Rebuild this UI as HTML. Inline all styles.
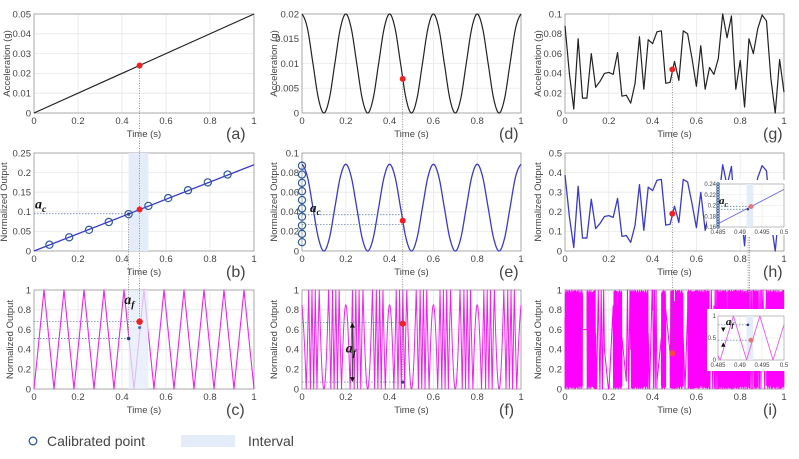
<!DOCTYPE html>
<html><head><meta charset="utf-8">
<style>
html,body{margin:0;padding:0;background:#fff;}
svg{display:block;font-family:"Liberation Sans",sans-serif;}
</style></head>
<body>
<svg id="fig" width="799" height="459" viewBox="0 0 799 459" xmlns="http://www.w3.org/2000/svg"></svg>
<script>
// ---------- data ----------
const xTicks=[0,0.2,0.4,0.6,0.8,1];
const xTickLabels=["0","0.2","0.4","0.6","0.8","1"];
const aTime=[0,1];
const aValues=[0,0.05];
const aTicks=[0,0.01,0.02,0.03,0.04,0.05];
const dValues=[0.02,0.01707,0.01,0.00293,0,0.00293,0.01,0.01707,0.02,0.01707,0.01,0.00293,0,0.00293,0.01,0.01707,0.02,0.01707,0.01,0.00293,0,0.00293,0.01,0.01707,0.02,0.01707,0.01,0.00293,0,0.00293,0.01,0.01707,0.02,0.01707,0.01,0.00293,0,0.00293,0.01,0.01707,0.02];
const dTicks=[0,0.005,0.01,0.015,0.02];
const gValues=[0.088,0.04,0.004,0.075,0.015,0.015,0.06,0.026,0.032,0.04,0.041,0.039,0.061,0.017,0.018,0.01,0.03,0.077,0.024,0.074,0.07,0.082,0.083,0.03,0.031,0.052,0.033,0.083,0.08,0.055,0.027,0.068,0.024,0.046,0.039,0.055,0.1,0.076,0.098,0.024,0.053,0.006,0.075,0.06,0.085,0.099,0.093,0.035,0.0,0.054,0.021];
const gTicks=[0,0.02,0.04,0.06,0.08,0.1];
const bTime=[0,1];
const bValues=[0,0.22];
const bTicks=[0,0.05,0.1,0.15,0.2,0.25];
const bCalTime=[0.07,0.16,0.25,0.34,0.43,0.52,0.61,0.70,0.79,0.88];
const bCalValues=[0.016,0.035,0.054,0.074,0.094,0.115,0.135,0.155,0.175,0.195];
const eValues=[0.0885,0.0755,0.04425,0.013,0,0.013,0.04425,0.0755,0.0885,0.0755,0.04425,0.013,0,0.013,0.04425,0.0755,0.0885,0.0755,0.04425,0.013,0,0.013,0.04425,0.0755,0.0885,0.0755,0.04425,0.013,0,0.013,0.04425,0.0755,0.0885,0.0755,0.04425,0.013,0,0.013,0.04425,0.0755,0.0885];
const eTicks=[0,0.02,0.04,0.06,0.08,0.1];
const eCalValues=[0.009,0.0175,0.026,0.035,0.0435,0.052,0.061,0.0695,0.078,0.087];
const hGain=4.4;
const hTicks=[0,0.1,0.2,0.3,0.4,0.5];
const foldPeriod=0.02;
const normTicks=[0,0.2,0.4,0.6,0.8,1];
const normTickLabels=["0","0.2","0.4","0.6","0.8","1"];
// ---------- helpers ----------
const NS="http://www.w3.org/2000/svg";
const svg=document.getElementById('fig');
function add(parent,tag,attrs,text){const e=document.createElementNS(NS,tag);for(const k in attrs)e.setAttribute(k,attrs[k]);if(text!==undefined)e.textContent=text;parent.appendChild(e);return e;}
function panel(x0,x1,yT,yB,xmin,xmax,ymin,ymax){return{x0,x1,yT,yB,sx:t=>x0+(t-xmin)/(xmax-xmin)*(x1-x0),sy:v=>yB-(v-ymin)/(ymax-ymin)*(yB-yT)};}
function fmt(v){return String(+v.toFixed(4));}
function cr(arr,t){
  const n=arr.length-1;let f=t*n;let i=Math.min(Math.floor(f),n-1);const u=f-i;
  const p0=arr[Math.max(i-1,0)],p1=arr[i],p2=arr[i+1],p3=arr[Math.min(i+2,n)];
  return 0.5*((2*p1)+(-p0+p2)*u+(2*p0-5*p1+4*p2-p3)*u*u+(-p0+3*p1-3*p2+p3)*u*u*u);}
function lin(arr,t){const n=arr.length-1;let f=t*n;let i=Math.min(Math.floor(f),n-1);const u=f-i;return arr[i]*(1-u)+arr[i+1]*u;}
function fold(v){let x=v/foldPeriod;x=x-Math.floor(x);return x<0.5?2*x:2-2*x;}
function pathFrom(p,ts,vs){let d='';for(let i=0;i<ts.length;i++){d+=(i?'L':'M')+p.sx(ts[i]).toFixed(2)+' '+p.sy(vs[i]).toFixed(2);}return d;}

function axes(p,name,yt,ytl,ylabel,ylx,letter,letterX,timeY){
  const g=add(svg,'g',{});
  
  
  xTicks.forEach((t,i)=>{
    const l=add(g,'line',{x1:p.sx(t),x2:p.sx(t),y1:p.yT,y2:p.yB,stroke:'#e8e8e8','stroke-width':0.8});
    
    
    const tx=add(g,'text',{x:p.sx(t),y:p.yB+11,'font-size':9.5,fill:'#444','text-anchor':'middle'},xTickLabels[i]);
    
    
  });
  yt.forEach((v,i)=>{
    const l=add(g,'line',{x1:p.x0,x2:p.x1,y1:p.sy(v),y2:p.sy(v),stroke:'#e8e8e8','stroke-width':0.8});
    
    
    const tx=add(g,'text',{x:p.x0-3,y:p.sy(v)+3.3,'font-size':9.5,fill:'#444','text-anchor':'end'},ytl[i]);
    
    
  });
  const b=add(g,'rect',{x:p.x0,y:p.yT,width:p.x1-p.x0,height:p.yB-p.yT,fill:'none',stroke:'#999','stroke-width':0.8});
  
  
  const cy=(p.yT+p.yB)/2;
  const yl=add(g,'text',{x:ylx,y:cy,'font-size':9.5,fill:'#444','text-anchor':'middle',transform:`rotate(-90 ${ylx} ${cy})`},ylabel);
  
  
  const xl=add(g,'text',{x:(p.x0+p.x1)/2,y:timeY,'font-size':9.5,fill:'#444','text-anchor':'middle'},'Time (s)');
  
  
  const lt=add(g,'text',{x:letterX,y:timeY+2,'font-size':16,fill:'#444'},letter);
  
  
  return g;
}
function line(g,p,ts,vs,color,w,name,op){const e=add(g,'path',{d:pathFrom(p,ts,vs),fill:'none',stroke:color,'stroke-width':w,'stroke-linejoin':'round',opacity:op||1});
  
  return e;}
function dot(g,cx,cy,r,color,name){const e=add(g,'circle',{cx,cy,r,fill:color});
  
  return e;}
function ring(g,cx,cy,r,name,w){const e=add(g,'circle',{cx,cy,r,fill:'none',stroke:'#2d5b9c','stroke-width':w||1.2});
  
  return e;}
function dash(g,x1,y1,x2,y2,name){const e=add(g,'line',{x1,y1,x2,y2,stroke:'#4a6fa8','stroke-width':0.7,'stroke-dasharray':'1.5,1.5'});
  
  return e;}
function vdot(x,y1,y2){const e=add(svg,'line',{x1:x,y1,x2:x,y2,stroke:'#666','stroke-width':0.7,'stroke-dasharray':'1,1.5'});
  
  return e;}
function label(g,x,y,base,sub,size,name){const e=add(g,'text',{x,y,'font-family':'Liberation Serif, serif','font-style':'italic','font-weight':'bold','font-size':size,fill:'#111'});
  
  
  add(e,'tspan',{},base);add(e,'tspan',{'font-size':size*0.7,dy:size*0.25},sub);return e;}
function shade(g,p,t0,t1,name,op){const e=add(g,'rect',{x:p.sx(t0),y:p.yT,width:p.sx(t1)-p.sx(t0),height:p.yB-p.yT,fill:'#e3ecf8',opacity:op||1});
  
  return e;}

const fine=[];for(let i=0;i<=1500;i++)fine.push(i/1500);
const vfine=[];for(let i=0;i<=12000;i++)vfine.push(i/12000);
const gTime=gValues.map((_,i)=>i/(gValues.length-1));
const hValues=gValues.map(v=>v*hGain);

const C=[[34,254],[302,521],[565,784]];
const R=[[14,113],[153,251],[290,389]];
const TY=[137,275,413];
const YL=[10,277,541];
const LX=[226,499,763];

// ---------- (a) ----------
const pa=panel(C[0][0],C[0][1],R[0][0],R[0][1],0,1,0,0.05);
let g=axes(pa,'panel-a',aTicks,aTicks.map(fmt),'Acceleration (g)',YL[0],'(a)',LX[0],TY[0]);
line(g,pa,aTime,aValues,'#222',1.2,'acceleration-line');
// ---------- (d) ----------
const pd=panel(C[1][0],C[1][1],R[0][0],R[0][1],0,1,0,0.02);
g=axes(pd,'panel-d',dTicks,dTicks.map(fmt),'Acceleration (g)',YL[1],'(d)',LX[1],TY[0]);
line(g,pd,fine,fine.map(t=>cr(dValues,t)),'#222',1.2,'acceleration-line');
// ---------- (g) ----------
const pg=panel(C[2][0],C[2][1],R[0][0],R[0][1],0,1,0,0.1);
g=axes(pg,'panel-g',gTicks,gTicks.map(fmt),'Acceleration (g)',YL[2],'(g)',LX[2],TY[0]);
line(g,pg,gTime,gValues,'#222',1.2,'acceleration-line');
// ---------- (b) ----------
const pb=panel(C[0][0],C[0][1],R[1][0],R[1][1],0,1,0,0.25);
g=axes(pb,'panel-b',bTicks,bTicks.map(fmt),'Normalized Output',YL[0]-3,'(b)',LX[0],TY[1]);
shade(g,pb,0.43,0.52,'interval-shade');
line(g,pb,bTime,bValues,'#3a3ad0',1.3,'output-line');
bCalTime.forEach((t,i)=>ring(g,pb.sx(t),pb.sy(bCalValues[i]),3.6,'calibrated-point'));
dash(g,pb.x0,pb.sy(0.095),pb.sx(0.43),pb.sy(0.095),'ac-dashed-line');
dot(g,pb.sx(0.43),pb.sy(0.094),1.6,'#1f3f7a','calibrated-marker');
label(g,pb.x0+1,pb.sy(0.108),'a','c',14,'ac-label');
// ---------- (e) ----------
const pe=panel(C[1][0],C[1][1],R[1][0],R[1][1],0,1,0,0.1);
g=axes(pe,'panel-e',eTicks,eTicks.map(fmt),'Normalized Output',YL[1],'(e)',LX[1],TY[1]);
line(g,pe,fine,fine.map(t=>cr(eValues,t)),'#3a3ad0',1.3,'output-line');
eCalValues.forEach(v=>ring(g,pe.x0,pe.sy(v),3.6,'calibrated-point'));
dash(g,pe.x0,pe.sy(0.037),pe.sx(0.46),pe.sy(0.037),'ac-dashed-line');
dash(g,pe.x0,pe.sy(0.027),pe.sx(0.46),pe.sy(0.027),'ac-dashed-line');
label(g,pe.x0+8,pe.sy(0.04),'a','c',13,'ac-label');
// ---------- (h) ----------
const ph=panel(C[2][0],C[2][1],R[1][0],R[1][1],0,1,0,0.5);
g=axes(ph,'panel-h',hTicks,hTicks.map(fmt),'Normalized Output',YL[2],'(h)',LX[2],TY[1]);
line(g,ph,gTime,hValues,'#3a3ad0',1.3,'output-line');
// ---------- (c) ----------
const pc=panel(C[0][0],C[0][1],R[2][0],R[2][1],0,1,0,1);
g=axes(pc,'panel-c',normTicks,normTickLabels,'Normalized Output',YL[0]+3,'(c)',LX[0],TY[2]);
line(g,pc,vfine,vfine.map(t=>fold(lin(bValues,t))),'#ee22ee',1.1,'folded-output-line');
shade(g,pc,0.43,0.52,'interval-shade',0.75);
dash(g,pc.x0,pc.sy(0.51),pc.sx(0.43),pc.sy(0.51),'af-dashed-line');
dash(g,pc.x0,pc.sy(0.68),pc.sx(0.48),pc.sy(0.68),'af-dashed-line');
dot(g,pc.sx(0.43),pc.sy(0.51),1.8,'#1f3f7a','calibrated-marker');
dot(g,pc.sx(0.48),pc.sy(0.62),1.5,'#4a6fa8','calibrated-marker');
label(g,pc.sx(0.41),pc.sy(0.86),'a','f',14,'af-label');
// ---------- (f) ----------
const pf=panel(C[1][0],C[1][1],R[2][0],R[2][1],0,1,0,1);
g=axes(pf,'panel-f',normTicks,normTickLabels,'Normalized Output',YL[1],'(f)',LX[1],TY[2]);
line(g,pf,vfine,vfine.map(t=>fold(cr(eValues,t))),'#ee22ee',1.0,'folded-output-line');
dash(g,pf.x0,pf.sy(0.67),pf.sx(0.46),pf.sy(0.67),'af-dashed-line');
dash(g,pf.x0,pf.sy(0.07),pf.sx(0.46),pf.sy(0.07),'af-dashed-line');
{const ax=pf.sx(0.23);const e=add(g,'line',{x1:ax,x2:ax,y1:pf.sy(0.64),y2:pf.sy(0.1),stroke:'#222','stroke-width':0.8});


const a1=add(g,'path',{d:`M${ax-2.5} ${pf.sy(0.62)}L${ax+2.5} ${pf.sy(0.62)}L${ax} ${pf.sy(0.67)}Z`,fill:'#111'});


const a2=add(g,'path',{d:`M${ax-2.5} ${pf.sy(0.12)}L${ax+2.5} ${pf.sy(0.12)}L${ax} ${pf.sy(0.07)}Z`,fill:'#111'});

}
label(g,pf.sx(0.2),pf.sy(0.37),'a','f',14,'af-label');
dot(g,pf.sx(0.46),pf.sy(0.07),1.6,'#1f3f7a','calibrated-marker');
// ---------- (i) ----------
const pi=panel(C[2][0],C[2][1],R[2][0],R[2][1],0,1,0,1);
g=axes(pi,'panel-i',normTicks,normTickLabels,'Normalized Output',YL[2],'(i)',LX[2],TY[2]);
line(g,pi,vfine,vfine.map(t=>fold(lin(hValues,t))),'#ff00ff',1.0,'folded-output-line');

// ---------- guide lines ----------
vdot(pa.sx(0.48),pa.sy(0.024),pc.sy(0.68));
vdot(pa.sx(0.43),pb.sy(0.094),pc.sy(0.51));
vdot(pd.sx(0.46),pd.sy(0.0069),pf.sy(0.07));
vdot(pg.sx(0.49),pg.sy(0.044),pi.sy(0.36));
vdot(ph.sx(0.836),ph.sy(0.07),pi.sy(0.5));
vdot(ph.sx(0.843),ph.sy(0.07),pi.sy(0.5));

// ---------- red points ----------
dot(svg,pa.sx(0.48),pa.sy(0.024),3,'#ee2222','selected-point');
dot(svg,pd.sx(0.46),pd.sy(0.0069),3,'#ee2222','selected-point');
dot(svg,pg.sx(0.49),pg.sy(0.044),3,'#ee2222','selected-point');
dot(svg,pb.sx(0.48),pb.sy(0.106),3,'#ee2222','selected-point');
dot(svg,pe.sx(0.46),pe.sy(0.031),3,'#ee2222','selected-point');
dot(svg,ph.sx(0.49),ph.sy(0.19),3,'#ee2222','selected-point');
dot(svg,pc.sx(0.48),pc.sy(0.68),3.2,'#ee2222','selected-point');
dot(svg,pf.sx(0.46),pf.sy(0.66),3,'#ee2222','selected-point');
dot(svg,pi.sx(0.49),pi.sy(0.36),3,'#ff4444','selected-point');

// ---------- insets ----------
const insTicksX=[0.485,0.49,0.495,0.5];
function inset(name,bx,by,bw,bh,p,yt,ytl){
  const g=add(svg,'g',{});
  
  
  const bg=add(g,'rect',{x:bx,y:by,width:bw,height:bh,fill:'#fff'});
  
  
  insTicksX.forEach(t=>{
    const l=add(g,'line',{x1:p.sx(t),x2:p.sx(t),y1:p.yT,y2:p.yB,stroke:'#e8e8e8','stroke-width':0.6});
    
    
    const tx=add(g,'text',{x:p.sx(t),y:p.yB+7,'font-size':6,fill:'#444','text-anchor':'middle'},fmt(t));
    
    
  });
  yt.forEach((v,i)=>{
    const l=add(g,'line',{x1:p.x0,x2:p.x1,y1:p.sy(v),y2:p.sy(v),stroke:'#e8e8e8','stroke-width':0.6});
    
    
    const tx=add(g,'text',{x:p.x0-2,y:p.sy(v)+2,'font-size':6,fill:'#444','text-anchor':'end'},ytl[i]);
    
    
  });
  const b=add(g,'rect',{x:p.x0,y:p.yT,width:p.x1-p.x0,height:p.yB-p.yT,fill:'none',stroke:'#999','stroke-width':0.6});
  
  
  return g;
}
const insHTime=[0.485,0.5];
const insHValues=[0.166,0.23];
const insHCal=[0.16,0.165,0.17,0.175,0.18,0.185,0.19,0.195,0.2,0.205,0.21,0.215,0.22,0.225,0.23,0.235,0.24];
const ph2=panel(718,784,184,227,0.485,0.5,0.16,0.24);
const insHTicks=[0.16,0.18,0.2,0.22,0.24];
g=inset('inset-h',707,180,78,55,ph2,insHTicks,insHTicks.map(fmt));
shade(g,ph2,0.4915,0.493,'interval-shade');
line(g,ph2,insHTime,insHValues,'#6666ee',0.9,'inset-output-line');
insHCal.forEach(v=>ring(g,ph2.x0,ph2.sy(v),1.3,'calibrated-point',0.8));
dash(g,ph2.x0,ph2.sy(0.198),ph2.sx(0.4925),ph2.sy(0.198),'ac-dashed-line');
dash(g,ph2.x0,ph2.sy(0.193),ph2.sx(0.4918),ph2.sy(0.193),'ac-dashed-line');
dot(g,ph2.sx(0.4918),ph2.sy(0.193),1.2,'#1f3f7a','calibrated-marker');
dot(g,ph2.sx(0.4925),ph2.sy(0.198),2.4,'#f07070','selected-point');
label(g,ph2.x0+1,ph2.sy(0.203),'a','c',11,'ac-label');

const insITime=[0.485,0.4855,0.4885,0.4915,0.4945,0.4975,0.5];
const insIValues=[0.1,0,1,0,1,0,0.8];
const pi2=panel(718,784,316,360,0.485,0.5,0,1);
const insITicks=[0,0.5,1];
g=inset('inset-i',707,309,78,62,pi2,insITicks,insITicks.map(fmt));
shade(g,pi2,0.4915,0.493,'interval-shade');
line(g,pi2,insITime,insIValues,'#ee55ee',0.9,'inset-folded-line');
dash(g,pi2.x0,pi2.sy(0.8),pi2.sx(0.4918),pi2.sy(0.8),'af-dashed-line');
dash(g,pi2.x0,pi2.sy(0.45),pi2.sx(0.4925),pi2.sy(0.45),'af-dashed-line');
dot(g,pi2.sx(0.4918),pi2.sy(0.8),1.3,'#1f3f7a','calibrated-marker');
dot(g,pi2.sx(0.4925),pi2.sy(0.45),2.4,'#f07070','selected-point');
{const ax=pi2.sx(0.4862);
const a1=add(g,'path',{d:`M${ax-2.2} ${pi2.sy(0.74)}L${ax+2.2} ${pi2.sy(0.74)}L${ax} ${pi2.sy(0.64)}Z`,fill:'#111'});


const a2=add(g,'path',{d:`M${ax-2.2} ${pi2.sy(0.3)}L${ax+2.2} ${pi2.sy(0.3)}L${ax} ${pi2.sy(0.4)}Z`,fill:'#111'});

}
label(g,pi2.sx(0.4868),pi2.sy(0.8),'a','f',11,'af-label');

// ---------- legend ----------
const lg=add(svg,'g',{});


ring(lg,33,441,3.8,'legend-calibrated-marker',1.3);
const t1=add(lg,'text',{x:47,y:446,'font-size':14,fill:'#444'},'Calibrated point');


const r1=add(lg,'rect',{x:181,y:435,width:54,height:12,fill:'#e3ecf8'});


const t2=add(lg,'text',{x:248,y:446,'font-size':14,fill:'#444'},'Interval');


</script>
</body></html>
